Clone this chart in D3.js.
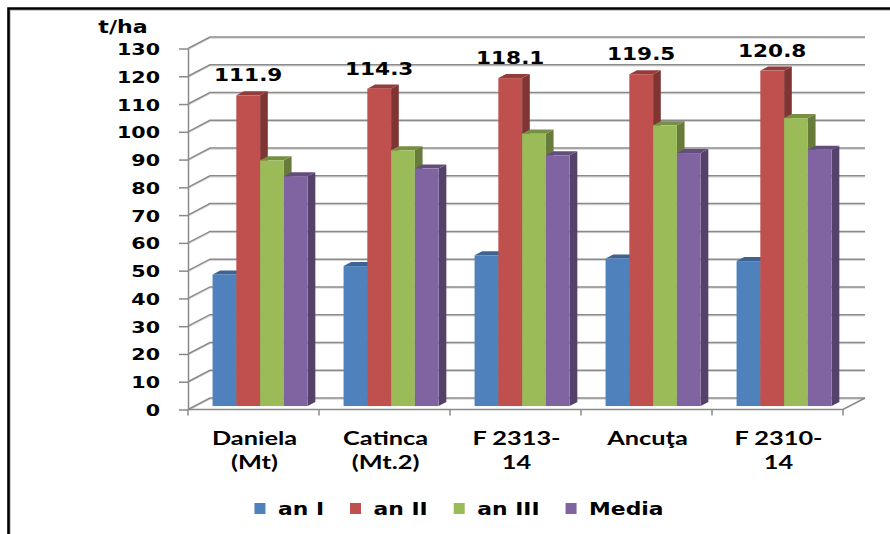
<!DOCTYPE html>
<html>
<head>
<meta charset="utf-8">
<script src="https://cdn.jsdelivr.net/npm/d3@7"></script>
<style>
  html, body { margin: 0; padding: 0; background: #fff; }
  svg { display: block; }
</style>
</head>
<body>
<svg id="chart" width="890" height="534"></svg>
<script>
// ---- data ----
const categories = ["Daniela\n(Mt)", "Catinca\n(Mt.2)", "F 2313-\n14", "Ancuţa", "F 2310-\n14"];
const seriesNames = ["an I", "an II", "an III", "Media"];
const anI   = [47.4, 50.4, 54.3, 53.1, 52.2];
const anII  = [111.9, 114.3, 118.1, 119.5, 120.8];
const anIII = [88.5, 92.1, 98.1, 101.1, 103.7];
const media = [82.7, 85.5, 90.3, 91.1, 92.3];
const yTickValues = [0, 10, 20, 30, 40, 50, 60, 70, 80, 90, 100, 110, 120, 130];
const unitLabel = "t/ha";
const labelledSeries = "an II";

const seriesValues = { "an I": anI, "an II": anII, "an III": anIII, "Media": media };
const seriesColors = { "an I": "#4F81BD", "an II": "#C0504D", "an III": "#9BBB59", "Media": "#8064A2" };

// ---- layout ----
const svg = d3.select("#chart");
const plotLeft = 188, plotRight = 843, plotBottom = 409.5, plotTop = 48.5;
const DX = 22, DY = -11.5;            // depth of the 3-D box
const zFront = 0.3, zBack = 0.65;     // bars sit in the middle of the depth
const TEXT_SX = 1.25;                 // wide lettering

const y = d3.scaleLinear().domain([0, 130]).range([plotBottom, plotTop]);
const xCat = d3.scaleBand().domain(categories).range([plotLeft, plotRight]).padding(0);
const xSer = d3.scaleBand().domain(seriesNames).range([0, xCat.bandwidth()])
  .paddingInner(0).paddingOuter(0.756);

const gridColor = "#8a8a8a";

// stretched text helper
function label(parent, x, yPos, str, o) {
  const g = parent.append("g").attr("transform", `translate(${x},${yPos}) scale(${o.sx || TEXT_SX},1)`);
  return g.append("text")
    .attr("text-anchor", o.anchor || "middle")
    .attr("font-family", o.family || "'DejaVu Sans', Verdana, sans-serif")
    .attr("font-weight", "bold")
    .attr("font-size", o.size)
    .attr("fill", o.fill || "#000")
    .text(str);
}

// outer frame
svg.append("path").attr("d", "M10,534V10H890").attr("fill", "none")
  .attr("stroke", "#bdbdbd").attr("stroke-width", 1.5);
svg.append("path").attr("d", "M8.5,534V8.5H890").attr("fill", "none")
  .attr("stroke", "#000").attr("stroke-width", 2.6);

// ---- walls: gridlines on side and back walls ----
const grid = svg.append("g");
yTickValues.forEach(v => {
  const yy = y(v);
  const d = `M${plotLeft},${yy}L${plotLeft + DX},${yy + DY}L${plotRight + DX},${yy + DY}`;
  grid.append("path").attr("d", d).attr("transform", "translate(0,1.2)")
    .attr("fill", "none").attr("stroke", "#d4d4d4").attr("stroke-width", 1);
  grid.append("path").attr("d", d)
    .attr("fill", "none").attr("stroke", gridColor).attr("stroke-width", 1.5);
});

// floor front edge and right edge
grid.append("path")
  .attr("d", `M${plotLeft},${plotBottom}L${plotRight},${plotBottom}L${plotRight + DX},${plotBottom + DY}`)
  .attr("fill", "none").attr("stroke", gridColor).attr("stroke-width", 1.5);

// category tick marks
const catEdges = categories.map(c => xCat(c)).concat([plotRight]);
grid.selectAll("line.xt").data(catEdges).join("line")
  .attr("x1", d => d).attr("x2", d => d)
  .attr("y1", plotBottom).attr("y2", plotBottom + 6)
  .attr("stroke", gridColor).attr("stroke-width", 1.5);

// y axis
const yAxis = d3.axisLeft(y).tickValues(yTickValues).tickSize(9).tickSizeOuter(0).tickFormat(d3.format("d"));
const ya = svg.append("g").attr("transform", `translate(${plotLeft},0)`).call(yAxis);
ya.select(".domain").attr("stroke", gridColor).attr("stroke-width", 1.5);
ya.selectAll(".tick line").attr("stroke", gridColor).attr("stroke-width", 1.5);
ya.selectAll(".tick text").remove();
yTickValues.forEach(v => {
  label(svg, 160, y(v) + 6.5, d3.format("d")(v), { anchor: "end", size: 16.5 });
});

// unit label
label(svg, 123, 33, unitLabel, { size: 17, sx: 1.3 });

// ---- bars ----
const fx = DX * zFront, fy = DY * zFront;
const sdx = DX * (zBack - zFront), sdy = DY * (zBack - zFront);
const bw = xSer.bandwidth();
const bars = svg.append("g");
const barData = [];
categories.forEach((c, i) => {
  seriesNames.forEach(s => {
    barData.push({ cat: c, ser: s, v: seriesValues[s][i] });
  });
});
barData.forEach(d => {
  const x0 = xCat(d.cat) + xSer(d.ser) + fx;
  const x1 = x0 + bw;
  const yt = y(d.v) + fy;
  const yb = y(0) + fy;
  const base = d3.color(seriesColors[d.ser]);
  const g = bars.append("g");
  // side face
  g.append("path")
    .attr("d", `M${x1},${yb}L${x1},${yt}L${x1 + sdx},${yt + sdy}L${x1 + sdx},${yb + sdy}Z`)
    .attr("fill", base.darker(1.15));
  // top face
  g.append("path")
    .attr("d", `M${x0},${yt}L${x1},${yt}L${x1 + sdx},${yt + sdy}L${x0 + sdx},${yt + sdy}Z`)
    .attr("fill", base.darker(0.75));
  // front face
  g.append("rect").attr("x", x0).attr("y", yt).attr("width", bw).attr("height", yb - yt)
    .attr("fill", base);
});

// value labels on the "an II" series
categories.forEach((c, i) => {
  const v = seriesValues[labelledSeries][i];
  const cx = xCat(c) + xSer(labelledSeries) + fx + bw / 2;
  label(svg, cx, y(v) + fy - 14, d3.format(".1f")(v), { size: 18, sx: 1.2 });
});

// category labels
categories.forEach(c => {
  const cx = xCat(c) + xCat.bandwidth() / 2 + 1;
  c.split("\n").forEach((line, k) => {
    label(svg, cx, 444.5 + k * 24, line, { size: 19.5, sx: 1.3, family: "Lato, 'Open Sans', sans-serif" });
  });
});

// ---- legend ----
const legend = svg.append("g");
const legendSize = 17.5, sq = 11, gapText = 12.5, gapItem = 26;
const items = [];
let cursor = 0;
seriesNames.forEach(s => {
  const t = label(legend, 0, 0, s, { anchor: "start", size: legendSize });
  const w = t.node().getComputedTextLength() * TEXT_SX;
  t.node().parentNode.remove();
  items.push({ s, x: cursor, w });
  cursor += sq + gapText + w + gapItem;
});
const legendWidth = cursor - gapItem;
const legendLeft = 459 - legendWidth / 2;
items.forEach(it => {
  legend.append("rect").attr("x", legendLeft + it.x).attr("y", 503).attr("width", sq).attr("height", sq)
    .attr("fill", seriesColors[it.s]);
  label(legend, legendLeft + it.x + sq + gapText, 515, it.s, { anchor: "start", size: legendSize });
});
</script>
</body>
</html>
